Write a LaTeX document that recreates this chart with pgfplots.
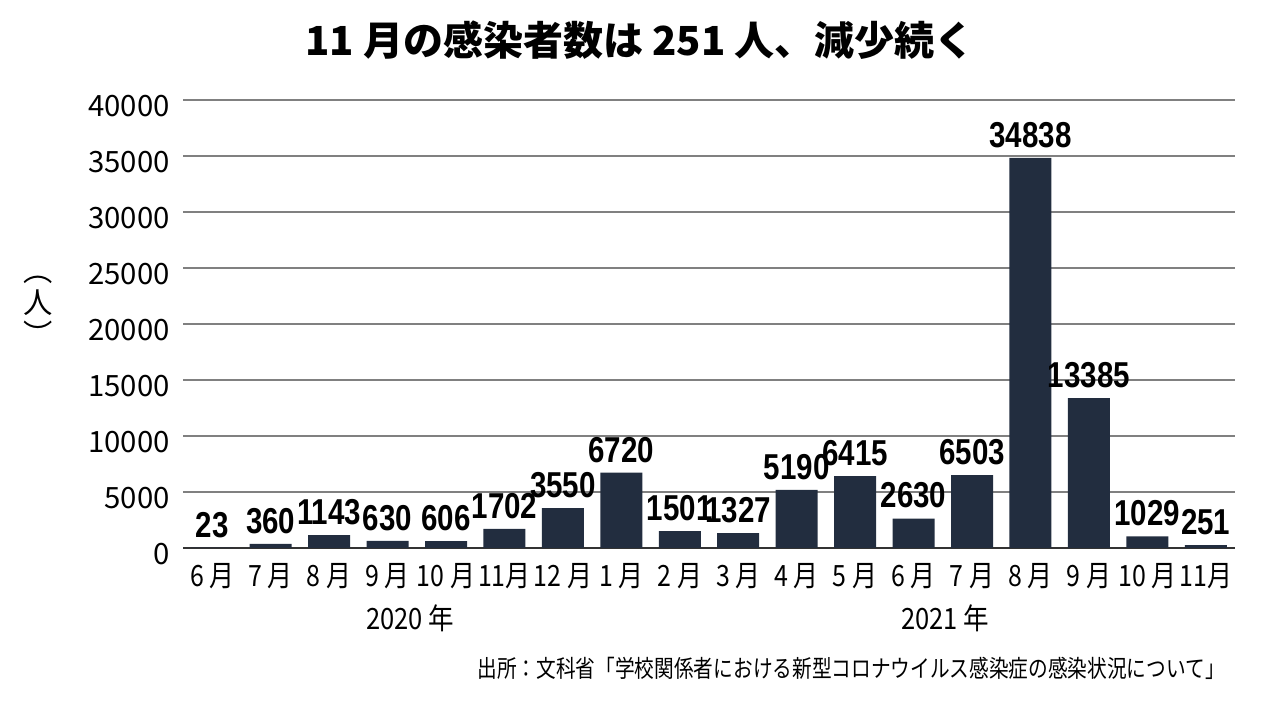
\documentclass[border=0pt]{standalone}
\usepackage{pgfplots}
\pgfplotsset{compat=1.18}
\usepackage{fontspec}
\setmainfont{Noto Sans CJK JP}
\newfontfamily\labfont{Liberation Sans}
\definecolor{barcol}{RGB}{34,45,63}
\definecolor{gridcol}{RGB}{128,128,128}
\newcommand\mo[1]{\scalebox{0.85}[1]{#1}}

\begin{document}
\begin{tikzpicture}[x=0.75pt,y=0.75pt]
\path[use as bounding box] (0,0) rectangle (1280,720);
\begin{axis}[
  at={(137.25pt,129pt)}, anchor=south west,
  x=, y=,
  width=789pt, height=336pt, scale only axis,
  ybar, bar width=31.5pt, bar shift=0pt,
  xmin=-0.5, xmax=17.5, ymin=0, ymax=40000,
  xtick={0,...,17},
  xticklabels={\mo{6 月},\mo{7 月},\mo{8 月},\mo{9 月},\mo{10 月},\mo{11月},\mo{12 月},\mo{1 月},\mo{2 月},
               \mo{3 月},\mo{4 月},\mo{5 月},\mo{6 月},\mo{7 月},\mo{8 月},\mo{9 月},\mo{10 月},\mo{11月}},
  ytick={0,5000,...,40000},
  /pgf/number format/1000 sep={},
  /pgf/number format/assume math mode=true,
  scaled y ticks=false,
  ymajorgrids, grid style={gridcol, line width=1.5pt},
  axis x line*=bottom, axis y line*=left,
  y axis line style={draw=none},
  x axis line style={draw=black!80, line width=1.5pt, -},
  major tick length=0pt,
  tick label style={font=\fontsize{22}{26}\selectfont},
  yticklabel style={anchor=base east, inner sep=0pt, xshift=-9.75pt, yshift=-12.5pt},
  xticklabel style={anchor=base, inner sep=0pt, yshift=-29.25pt},
  nodes near coords={\scalebox{0.82}[1]{\labfont\bfseries\pgfmathprintnumber{\pgfplotspointmeta}}},
  every node near coord/.append style={anchor=south, inner sep=0pt, yshift=7.5pt,
    text=black, font=\fontsize{27}{30}\selectfont},
]
\addplot[fill=barcol, draw=none] coordinates {
  (0,23) (1,360) (2,1143) (3,630) (4,606) (5,1702) (6,3550) (7,6720) (8,1501)
  (9,1327) (10,5190) (11,6415) (12,2630) (13,6503) (14,34838) (15,13385) (16,1029) (17,251)
};
\end{axis}
% title, axis texts and source
\node[font=\fontsize{30}{34}\selectfont\bfseries] at (640,680) {11 月の感染者数は 251 人、減少続く};
\node[font=\fontsize{22}{24}\selectfont, align=center] at (38,409) {︵\\人\\︶};
\node[anchor=base, font=\fontsize{22}{26}\selectfont] at (410,90) {\scalebox{0.87}[1]{2020 年}};
\node[anchor=base, font=\fontsize{22}{26}\selectfont] at (945,90) {\scalebox{0.87}[1]{2021 年}};
\node[anchor=base east, inner sep=0pt, font=\fontsize{18}{22}\selectfont] at (1225,42)
  {\scalebox{0.82}[1]{出所：文科省「学校関係者における新型コロナウイルス感染症の感染状況について」}};
\end{tikzpicture}
\end{document}
